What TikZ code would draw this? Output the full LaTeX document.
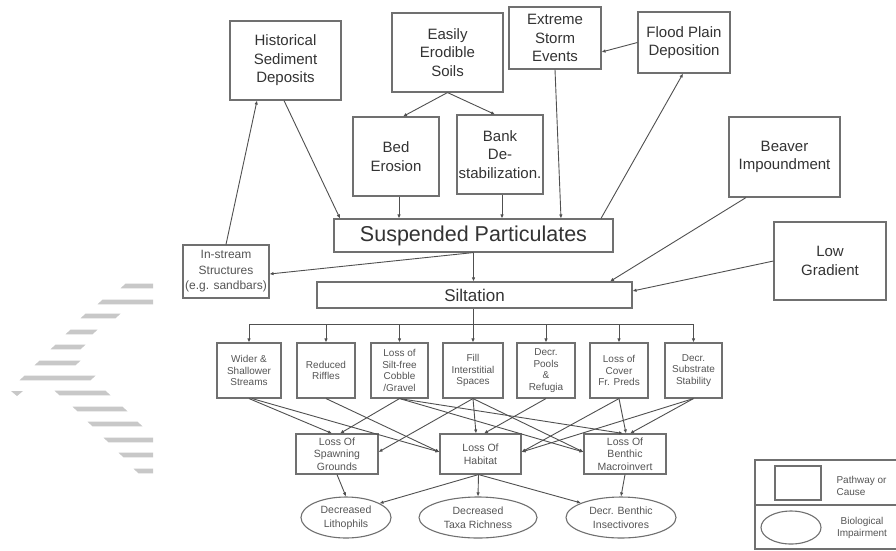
\documentclass[tikz,border=0pt]{standalone}
\usepackage{fontspec}
\setmainfont{Liberation Sans}
\usetikzlibrary{arrows.meta,shapes.geometric}
\definecolor{txt}{HTML}{333333}
\definecolor{ltxt}{HTML}{555555}
\definecolor{bord}{HTML}{707070}
\definecolor{lnc}{HTML}{505050}
\definecolor{strp}{HTML}{C8C8C8}
\begin{document}
\begin{tikzpicture}[x=1pt,y=-1pt,
  box/.style={draw=bord, line width=1.1pt, rectangle, inner sep=0pt, align=center, text=txt, font=\fontsize{15}{18.5}\selectfont},
  sbox/.style={box, font=\fontsize{10}{11.5}\selectfont, text=ltxt},
  mbox/.style={box, font=\fontsize{10.5}{12.5}\selectfont, text=ltxt},
  ell/.style={draw=bord, line width=1.1pt, ellipse, inner sep=0pt, align=center, text=ltxt, font=\fontsize{10.5}{14}\selectfont},
  arr/.style={draw=lnc, line width=0.9pt, -{Latex[length=4pt,width=3.5pt]}},
  ln/.style={draw=lnc, line width=0.9pt},
  lgtext/.style={text=ltxt, font=\fontsize{10}{12}\selectfont},
]
\useasboundingbox (0,0) rectangle (896,550);
\fill[white] (0,0) rectangle (896,550);

% watermark stripes
\begin{scope}
\clip (0,0) rectangle (153,550);
\foreach \yc/\L/\R in {286/123/160, 302/100/160, 316/83/118, 332/68/95, 347/53/83, 363/37/78, 378/22/93}
  \fill[strp] (\L-2.5,\yc+2.3) -- (\R-2.5,\yc+2.3) -- (\R+2.5,\yc-2.3) -- (\L+2.5,\yc-2.3) -- cycle;
\foreach \yc/\L/\R in {393/57/108, 409/75/125, 424/90/140, 440/106/160, 455/121/160, 471/136/160}
  \fill[strp] (\L-2.5,\yc-2.3) -- (\R-2.5,\yc-2.3) -- (\R+2.5,\yc+2.3) -- (\L+2.5,\yc+2.3) -- cycle;
\fill[strp] (11,391) -- (23,391) -- (17,396) -- cycle;
\end{scope}

% top boxes
\node[box, minimum width=111pt, minimum height=79pt] (hist) at (285.5,60.5) {Historical\\Sediment\\Deposits};
\node[box, minimum width=111pt, minimum height=79pt] (erod) at (447.5,52.5) {Easily\\Erodible\\Soils};
\node[box, minimum width=92pt, minimum height=62pt] (storm) at (555,38) {Extreme\\Storm\\Events};
\node[box, minimum width=92pt, minimum height=61pt] (flood) at (684,42.5) {Flood Plain\\Deposition};
\node[box, minimum width=86pt, minimum height=79pt] (bed) at (396,156.5) {Bed\\Erosion};
\node[box, minimum width=86pt, minimum height=79pt] (bank) at (500,154.5) {Bank\\De-\\stabilization.};
\node[box, minimum width=111pt, minimum height=80pt] (beaver) at (784.5,157) {Beaver\\Impoundment};
\node[box, minimum width=279pt, minimum height=33pt, font=\fontsize{21.5}{24}\selectfont] (susp) at (473.5,235.5) {Suspended Particulates};
\node[box, minimum width=86pt, minimum height=53pt, text=ltxt, font=\fontsize{12}{15.5}\selectfont] (instream) at (226,271.5) {In-stream\\Structures\\(e.g. sandbars)};
\node[box, minimum width=315pt, minimum height=26pt, font=\fontsize{17}{20}\selectfont] (silt) at (474.5,295) {Siltation};
\node[box, minimum width=112pt, minimum height=78pt] (lowgrad) at (830,261) {Low\\Gradient};

% row 2
\node[sbox, minimum width=64pt, minimum height=55pt] (wider) at (249,370.5) {Wider \&\\Shallower\\Streams};
\node[sbox, minimum width=58pt, minimum height=55pt] (riffle) at (326,370.5) {Reduced\\Riffles};
\node[sbox, minimum width=57pt, minimum height=55pt] (cobble) at (399.5,370.5) {Loss of\\Silt-free\\Cobble\\/Gravel};
\node[sbox, minimum width=60pt, minimum height=55pt] (interst) at (473,370.5) {Fill\\Interstitial\\Spaces};
\node[sbox, minimum width=58pt, minimum height=55pt] (pools) at (546,370.5) {Decr.\\Pools\\\&\\Refugia};
\node[sbox, minimum width=58pt, minimum height=55pt] (cover) at (619,370.5) {Loss of\\Cover\\Fr. Preds};
\node[sbox, minimum width=57pt, minimum height=55pt] (subst) at (693.5,370.5) {Decr.\\Substrate\\Stability};

% row 3
\node[mbox, minimum width=82pt, minimum height=40pt] (spawn) at (337,454) {Loss Of\\Spawning\\Grounds};
\node[mbox, minimum width=81pt, minimum height=40pt] (habitat) at (480.5,454) {Loss Of\\Habitat};
\node[mbox, minimum width=82pt, minimum height=40pt] (benthic) at (625,454) {Loss Of\\Benthic\\Macroinvert};

% ellipses
\node[ell, minimum width=90pt, minimum height=41pt] (litho) at (346,517.5) {Decreased\\Lithophils};
\node[ell, minimum width=118pt, minimum height=41pt] (taxa) at (478,517.5) {Decreased\\Taxa Richness};
\node[ell, minimum width=110pt, minimum height=41pt] (insect) at (621,517.5) {Decr. Benthic\\Insectivores};

% legend
\draw[draw=bord, line width=1.1pt] (897,460) -| (755,549) -- (897,549);
\draw[draw=bord, line width=1.1pt] (755,505) -- (897,505);
\node[draw=bord, line width=1.1pt, minimum width=46pt, minimum height=34pt, inner sep=0pt] (lgbox) at (798,483) {};
\node[ell, minimum width=60pt, minimum height=33pt] (lgell) at (791,527.5) {};
\node[lgtext, anchor=west, align=left] (lgt1) at (833,486) {Pathway or\\Cause};
\node[lgtext, align=center] (lgt2) at (862,528) {Biological\\Impairment};

% top connectors
\draw[arr] (instream.north) -- ([xshift=-28.5pt]hist.south);
\draw[arr] ([xshift=-1.5pt]hist.south) -- ([xshift=-133.5pt]susp.north);
\draw[arr] (erod.south) -- ([xshift=7pt]bed.north);
\draw[arr] (erod.south) -- ([xshift=-5pt]bank.north);
\draw[arr] ([xshift=3pt]bed.south) -- ([xshift=3pt]bed.south |- susp.north);
\draw[arr] ([xshift=2pt]bank.south) -- ([xshift=2pt]bank.south |- susp.north);
\draw[arr] (storm.south) -- ([xshift=87.5pt]susp.north);
\draw[arr] ([xshift=127.5pt]susp.north) -- ([xshift=-1pt]flood.south);
\draw[arr] (flood.west) -- ([yshift=-14pt]storm.east);
\draw[arr] ([xshift=-38.5pt]beaver.south) -- ([xshift=135.5pt]silt.north);
\draw[arr] (lowgrad.west) -- ([yshift=4pt]silt.east);
\draw[arr] (susp.south) -- (susp.south |- silt.north);
\draw[arr] (susp.south) -- ([yshift=-2.5pt]instream.east);

% bus
\draw[ln] (susp.south |- silt.south) -- ([yshift=-16pt]susp.south |- silt.south) coordinate (bus);
\draw[ln] (wider.north |- bus) -- (subst.north |- bus);
\foreach \n in {wider,riffle,cobble,interst,pools,cover,subst}
  \draw[arr] (\n.north |- bus) -- (\n.north);

% row 2 -> row 3
\draw[arr] (wider.south) -- ([xshift=-5pt]spawn.north);
\draw[arr] ([xshift=3pt]wider.south) -- ([yshift=2pt]habitat.west);
\draw[arr] (riffle.south) -- ([yshift=2pt]habitat.west);
\draw[arr] (cobble.south) -- ([xshift=3pt]spawn.north);
\draw[arr] (cobble.south) -- ([yshift=2pt]benthic.west);
\draw[arr] (cobble.south) -- ([xshift=-2pt]benthic.north);
\draw[arr] (interst.south) -- ([yshift=2pt]spawn.east);
\draw[arr] (interst.south) -- ([xshift=-4.5pt]habitat.north);
\draw[arr] (interst.south) -- ([yshift=2pt]benthic.west);
\draw[arr] (pools.south) -- ([xshift=3.5pt]habitat.north);
\draw[arr] (cover.south) -- ([yshift=2pt]habitat.east);
\draw[arr] (cover.south) -- ([xshift=1pt]benthic.north);
\draw[arr] (subst.south) -- ([yshift=2pt]habitat.east);
\draw[arr] (subst.south) -- ([xshift=5pt]benthic.north);

% row 3 -> ellipses
\draw[arr] (spawn.south) -- (litho.north);
\draw[arr] ([xshift=-2pt]habitat.south) -- (litho.23);
\draw[arr] ([xshift=-2pt]habitat.south) -- (taxa.north);
\draw[arr] ([xshift=-2pt]habitat.south) -- (insect.160);
\draw[arr] (benthic.south) -- (insect.north);
\end{tikzpicture}
\end{document}
